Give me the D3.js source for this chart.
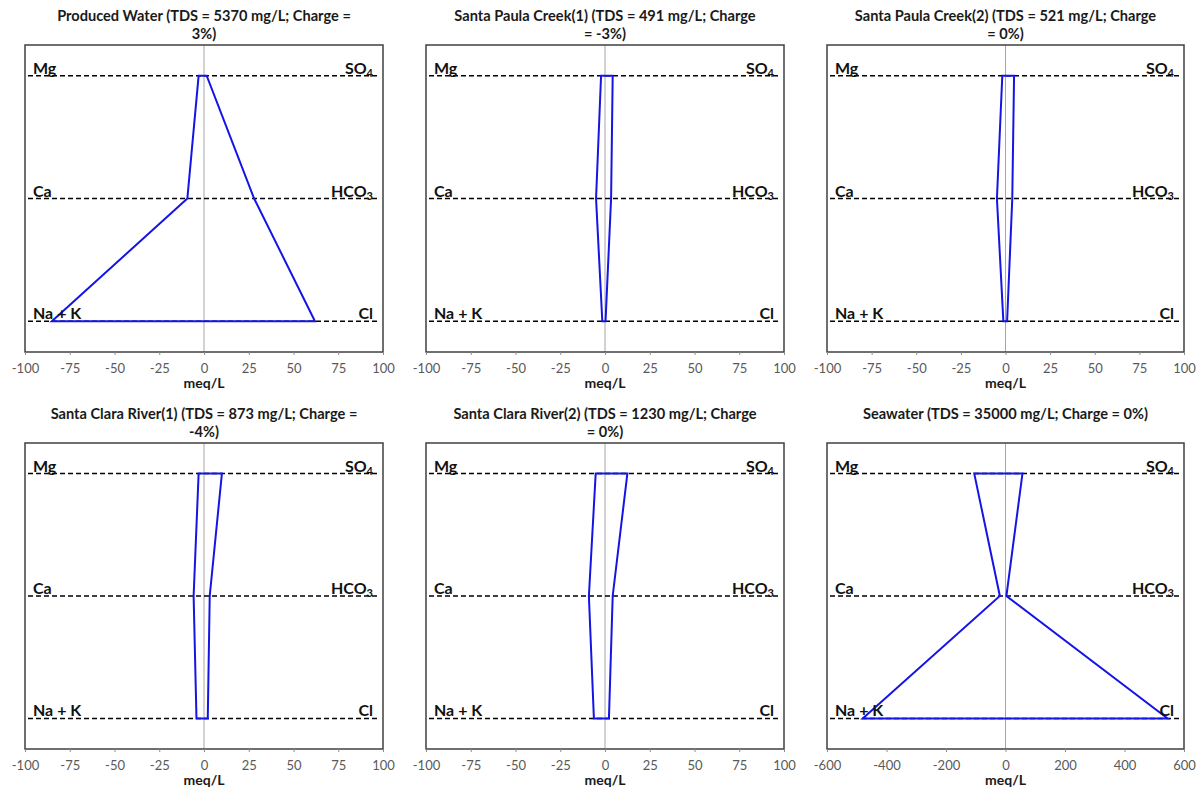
<!DOCTYPE html>
<html>
<head>
<meta charset="utf-8">
<script src="https://cdn.jsdelivr.net/npm/d3@7"></script>
<style>
  html, body { margin: 0; padding: 0; background: #ffffff; }
  svg { display: block; font-family: Lato, "Open Sans", "Liberation Sans", sans-serif; }
</style>
</head>
<body>
<svg id="chart" width="1203" height="791"></svg>
<script>
// ---- data ----
const titleLines = [
  ["Produced Water (TDS = 5370 mg/L; Charge =", "3%)"],
  ["Santa Paula Creek(1) (TDS = 491 mg/L; Charge", "= -3%)"],
  ["Santa Paula Creek(2) (TDS = 521 mg/L; Charge", "= 0%)"],
  ["Santa Clara River(1) (TDS = 873 mg/L; Charge =", "-4%)"],
  ["Santa Clara River(2) (TDS = 1230 mg/L; Charge", "= 0%)"],
  ["Seawater (TDS = 35000 mg/L; Charge = 0%)"]
];
const cationNames = ["Mg", "Ca", "Na + K"];
const anionNames = [["SO", "4"], ["HCO", "3"], ["Cl", ""]];
// cations (meq/L, plotted negative): Mg, Ca, Na+K
const mgValues   = [-3, -2.2, -1.8, -3, -5.2, -105];
const caValues   = [-9.3, -5, -4.8, -5.8, -9, -19];
const nakValues  = [-85, -1.5, -1.2, -4.2, -6.2, -480];
// anions (meq/L, plotted positive): SO4, HCO3, Cl
const so4Values  = [1.5, 4.3, 4.8, 10, 12.5, 57];
const hco3Values = [28, 3.4, 3.8, 3.2, 4.3, 3];
const clValues   = [62, 0.3, 0.9, 2.1, 2.2, 545];
const xDomains = [[-100, 100], [-100, 100], [-100, 100], [-100, 100], [-100, 100], [-600, 600]];
const xTickSets = [
  [-100, -75, -50, -25, 0, 25, 50, 75, 100],
  [-100, -75, -50, -25, 0, 25, 50, 75, 100],
  [-100, -75, -50, -25, 0, 25, 50, 75, 100],
  [-100, -75, -50, -25, 0, 25, 50, 75, 100],
  [-100, -75, -50, -25, 0, 25, 50, 75, 100],
  [-600, -400, -200, 0, 200, 400, 600]
];
const axisLabel = "meq/L";

// ---- layout ----
const colX = [[25, 383], [426, 784], [827, 1184]];
const rowY = [[45, 352], [443, 749]];

const svg = d3.select("#chart");

titleLines.forEach((tl, i) => {
  const c = i % 3, r = Math.floor(i / 3);
  const [x0, x1] = colX[c];
  const [y0, y1] = rowY[r];
  const g = svg.append("g");

  const x = d3.scaleLinear().domain(xDomains[i]).range([x0, x1]);
  const y = d3.scalePoint().domain([0, 1, 2]).range([y0, y1]).padding(0.25);

  // title
  const cx = (x0 + x1) / 2;
  tl.forEach((line, li) => {
    g.append("text").attr("x", cx).attr("y", y0 - 24 + li * 18).attr("text-anchor", "middle")
      .attr("font-size", 14.6).attr("font-weight", "bold").attr("fill", "#1a1a1a").text(line);
  });

  // zero line
  g.append("line").attr("x1", x(0)).attr("x2", x(0)).attr("y1", y0).attr("y2", y1)
    .attr("stroke", "#a6a6a6").attr("stroke-width", 1);

  // dashed level lines
  [0, 1, 2].forEach(k => {
    g.append("line").attr("x1", x0 + 3).attr("x2", x1 - 3).attr("y1", y(k)).attr("y2", y(k))
      .attr("stroke", "#000").attr("stroke-width", 1.5).attr("stroke-dasharray", "5,3");
  });

  // polygon
  const pts = [
    [mgValues[i], 0], [caValues[i], 1], [nakValues[i], 2],
    [clValues[i], 2], [hco3Values[i], 1], [so4Values[i], 0]
  ];
  g.append("path")
    .attr("d", d3.line().x(d => x(d[0])).y(d => y(d[1]))(pts) + "Z")
    .attr("fill", "none").attr("stroke", "#1414e6").attr("stroke-width", 2)
    .attr("stroke-linejoin", "miter");

  // labels
  cationNames.forEach((n, k) => {
    g.append("text").attr("x", x0 + 8).attr("y", y(k) - 2)
      .attr("font-size", 16).attr("font-weight", "bold").attr("fill", "#111").text(n);
  });
  anionNames.forEach((n, k) => {
    const t = g.append("text").attr("x", x1 - 10).attr("y", y(k) - 2).attr("text-anchor", "end")
      .attr("font-size", 16).attr("font-weight", "bold").attr("fill", "#111");
    t.append("tspan").text(n[0]);
    if (n[1]) t.append("tspan").attr("font-size", 11).attr("dy", 3).text(n[1]);
  });

  // frame
  g.append("rect").attr("x", x0).attr("y", y0).attr("width", x1 - x0).attr("height", y1 - y0)
    .attr("fill", "none").attr("stroke", "#404040").attr("stroke-width", 1.5);

  // x axis
  const ax = g.append("g").attr("transform", `translate(0,${y1})`)
    .call(d3.axisBottom(x).tickValues(xTickSets[i]).tickSize(3).tickPadding(9).tickFormat(d => String(d)));
  ax.select(".domain").remove();
  ax.selectAll(".tick line").attr("stroke", "#8c8c8c");
  ax.selectAll(".tick text").attr("font-size", 13).attr("fill", "#595959")
    .attr("font-family", "Lato, 'Open Sans', sans-serif");

  g.append("text").attr("x", x(0)).attr("y", y1 + 36).attr("text-anchor", "middle")
    .attr("font-size", 14).attr("font-weight", "bold").attr("fill", "#1a1a1a").text(axisLabel);
});
</script>
</body>
</html>
